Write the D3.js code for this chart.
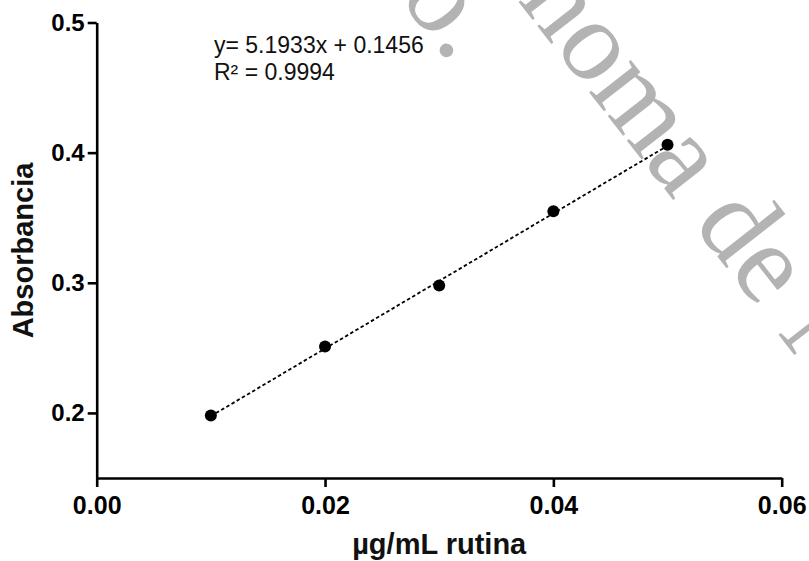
<!DOCTYPE html>
<html>
<head>
<meta charset="utf-8">
<script src="https://cdn.jsdelivr.net/npm/d3@7"></script>
<style>
  html, body { margin: 0; padding: 0; background: #fff; }
  svg { display: block; }
</style>
</head>
<body>
<svg id="chart" width="809" height="561"></svg>
<script>
// Calibration data: rutin concentration vs absorbance
const concentration = [0.01, 0.02, 0.03, 0.04, 0.05];
const absorbance    = [0.198, 0.251, 0.298, 0.355, 0.406];

// Linear fit reported for the calibration
const slope = 5.1933;
const intercept = 0.1456;
const rSquared = 0.9994;

const xTicks = [0.00, 0.02, 0.04, 0.06];
const yTicks = [0.2, 0.3, 0.4, 0.5];

const xTitle = "µg/mL rutina";
const yTitle = "Absorbancia";

const svg = d3.select("#chart");
const W = 809, H = 561;
const sans = "'Liberation Sans', Arial, Helvetica, sans-serif";
const serif = "'Liberation Serif', 'Times New Roman', serif";

// Watermark, drawn underneath the chart
const wm = svg.append("g").attr("fill", "#b3b3b3")
  .attr("font-family", serif).attr("font-size", 115);
wm.append("text")
  .attr("transform", "translate(517,0) rotate(52)")
  .text("noma de Nuevo León");
wm.append("text")
  .attr("transform", "translate(398,-3) rotate(52)")
  .text("o.");

const x = d3.scaleLinear().domain([0, 0.06]).range([96.7, 781.7]);
const y = d3.scaleLinear().domain([0.15, 0.5]).range([478, 22.5]);

// X axis
const gx = svg.append("g")
  .attr("transform", `translate(0,${y(0.15)})`)
  .call(d3.axisBottom(x).tickValues(xTicks).tickFormat(d3.format(".2f"))
        .tickSize(9).tickSizeOuter(0).tickPadding(9));
gx.selectAll("text").attr("font-size", 25).attr("font-weight", "bold")
  .attr("font-family", sans).attr("fill", "#000");

// Y axis
const gy = svg.append("g")
  .attr("transform", `translate(${x(0)},0)`)
  .call(d3.axisLeft(y).tickValues(yTicks).tickFormat(d3.format(".1f"))
        .tickSize(9).tickSizeOuter(0).tickPadding(3));
gy.selectAll("text").attr("font-size", 24).attr("font-weight", "bold")
  .attr("font-family", sans).attr("fill", "#000");

[gx, gy].forEach(g => {
  g.select(".domain").attr("stroke", "#000").attr("stroke-width", 2.6);
  g.selectAll(".tick line").attr("stroke", "#000").attr("stroke-width", 2.6);
});

// Axis titles
svg.append("text")
  .attr("x", (x(0) + x(0.06)) / 2 + 0)
  .attr("y", 554)
  .attr("text-anchor", "middle")
  .attr("font-family", sans).attr("font-weight", "bold").attr("font-size", 29)
  .attr("fill", "#111")
  .text(xTitle);

svg.append("text")
  .attr("transform", `translate(33,${250.5}) rotate(-90)`)
  .attr("text-anchor", "middle")
  .attr("font-family", sans).attr("font-weight", "bold").attr("font-size", 29)
  .attr("fill", "#111")
  .text(yTitle);

// Fitted line (dotted)
const xFit = d3.extent(concentration);
svg.append("line")
  .attr("x1", x(xFit[0])).attr("y1", y(slope * xFit[0] + intercept))
  .attr("x2", x(xFit[1])).attr("y2", y(slope * xFit[1] + intercept))
  .attr("stroke", "#000").attr("stroke-width", 1.8)
  .attr("stroke-dasharray", "3.5,2.5");

// Data points
svg.append("g").selectAll("circle")
  .data(concentration.map((c, i) => [c, absorbance[i]]))
  .join("circle")
  .attr("cx", d => x(d[0]))
  .attr("cy", d => y(d[1]))
  .attr("r", 6)
  .attr("fill", "#000");

// Regression equation
const eq = svg.append("g").attr("font-family", sans).attr("font-size", 23)
  .attr("fill", "#111");
eq.append("text").attr("x", 214).attr("y", 53)
  .text(`y= ${slope} x + ${intercept}`.replace(" x", "x"));
eq.append("text").attr("x", 214).attr("y", 80)
  .text(`R² = ${rSquared}`);
</script>
</body>
</html>
